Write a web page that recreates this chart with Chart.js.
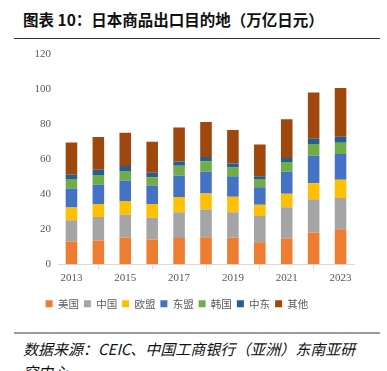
<!DOCTYPE html>
<html>
<head>
<meta charset="utf-8">
<script src="https://cdn.jsdelivr.net/npm/chart.js@4.4.1/dist/chart.umd.min.js"></script>
<style>
  html, body { margin: 0; padding: 0; background: #fff; }
  body { width: 387px; height: 371px; position: relative; overflow: hidden; }
  .title {
    position: absolute; left: 23px; top: 8px;
    font: bold 15.5px "Noto Sans CJK SC", sans-serif; color: #111; white-space: nowrap;
  }
  .rule-top { position: absolute; left: 14px; top: 38px; width: 366px; height: 1px; background: #333; }
  .rule-bot { position: absolute; left: 14px; top: 332px; width: 366px; height: 2px; background: #9a9a9a; }
  .source {
    position: absolute; left: 23px; top: 337px; width: 338px;
    font: italic 15px "Noto Sans CJK SC", sans-serif; color: #111; line-height: 23px;
  }
  .chart-box { position: absolute; left: 0; top: 40px; width: 387px; height: 285px; }
</style>
</head>
<body>
<div class="title">图表 10：日本商品出口目的地（万亿日元）</div>
<div class="rule-top"></div>
<div class="chart-box"><canvas id="exportChart"></canvas></div>
<div class="rule-bot"></div>
<div class="source">数据来源：CEIC、中国工商银行（亚洲）东南亚研究中心</div>

<script>
const years = ['2013', '2014', '2015', '2016', '2017', '2018', '2019', '2020', '2021', '2022', '2023'];

const usa    = [13.0, 13.6, 15.3, 14.2, 15.0, 15.5, 15.1, 12.6, 14.6, 18.1, 20.0];
const china  = [12.2, 13.4, 13.0, 12.4, 14.7, 15.8, 14.6, 15.0, 18.0, 19.0, 17.9];
const eu     = [7.2, 7.4, 7.8, 7.8, 8.7, 9.1, 8.9, 6.4, 7.6, 9.1, 10.3];
const asean  = [10.9, 11.0, 11.7, 10.5, 12.1, 12.6, 11.7, 9.9, 12.6, 15.7, 14.7];
const korea  = [5.4, 5.5, 5.4, 4.8, 5.8, 5.8, 5.0, 4.8, 5.6, 6.8, 6.4];
const mideast = [2.4, 3.1, 2.9, 2.5, 2.3, 2.4, 2.2, 1.6, 2.2, 3.0, 3.5];
const others = [18.4, 18.6, 19.0, 17.7, 19.5, 20.0, 19.2, 18.0, 22.1, 26.4, 27.8];

const yTicks = [0, 20, 40, 60, 80, 100, 120];

const series = [
  { label: '美国', data: usa, color: '#ED7D31' },
  { label: '中国', data: china, color: '#A5A5A5' },
  { label: '欧盟', data: eu, color: '#FFC000' },
  { label: '东盟', data: asean, color: '#4472C4' },
  { label: '韩国', data: korea, color: '#70AD47' },
  { label: '中东', data: mideast, color: '#255E91' },
  { label: '其他', data: others, color: '#9E480E' }
];

const axisFont = { family: '"Liberation Serif", "Times New Roman", serif', size: 11 };

new Chart(document.getElementById('exportChart'), {
  type: 'bar',
  data: {
    labels: years,
    datasets: series.map(s => ({
      label: s.label,
      data: s.data,
      backgroundColor: s.color,
      borderWidth: 0,
      barPercentage: 0.86,
      categoryPercentage: 0.5
    }))
  },
  options: {
    responsive: true,
    maintainAspectRatio: false,
    animation: false,
    layout: { padding: { left: 0, right: 33, top: 14, bottom: 6 } },
    plugins: {
      tooltip: { enabled: false },
      legend: {
        position: 'bottom',
        labels: {
          boxWidth: 7,
          boxHeight: 7,
          padding: 5,
          color: '#595959',
          font: { family: '"Noto Sans CJK SC", sans-serif', size: 10.5 }
        }
      }
    },
    scales: {
      x: {
        stacked: true,
        afterFit: scale => { scale.height += 7; },
        border: { color: '#d9d9d9' },
        grid: { drawOnChartArea: false, tickLength: 5, color: '#d9d9d9' },
        ticks: {
          autoSkip: false,
          maxRotation: 0,
          padding: 2,
          color: '#595959',
          font: axisFont,
          callback: (v, i) => (i % 2 === 0 ? years[i] : null)
        }
      },
      y: {
        stacked: true,
        min: 0,
        max: 120,
        afterFit: scale => { scale.width = 58; },
        afterBuildTicks: scale => { scale.ticks = yTicks.map(v => ({ value: v })); },
        border: { display: false },
        grid: { display: false, drawTicks: false },
        ticks: { padding: 7, color: '#595959', font: axisFont }
      }
    }
  }
});
</script>
</body>
</html>
